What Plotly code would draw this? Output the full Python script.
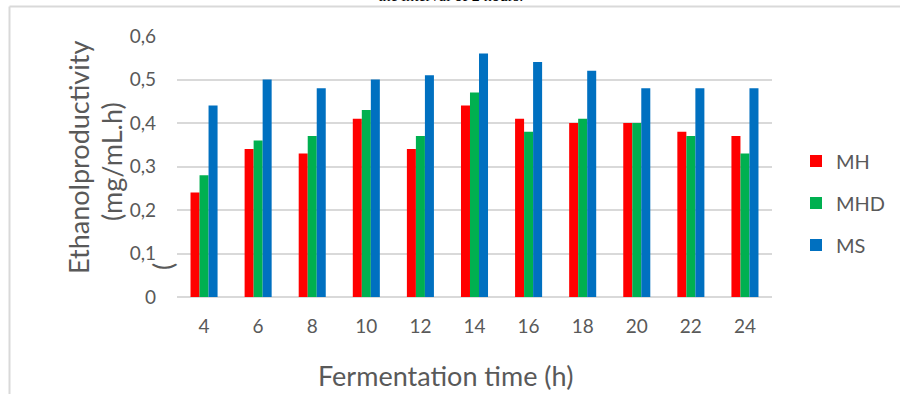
import plotly.graph_objects as go

# Fermentation times (h) and ethanol productivity (mg/mL.h)
hours = ["4", "6", "8", "10", "12", "14", "16", "18", "20", "22", "24"]
mh = [0.24, 0.34, 0.33, 0.41, 0.34, 0.44, 0.41, 0.40, 0.40, 0.38, 0.37]
mhd = [0.28, 0.36, 0.37, 0.43, 0.37, 0.47, 0.38, 0.41, 0.40, 0.37, 0.33]
ms = [0.44, 0.50, 0.48, 0.50, 0.51, 0.56, 0.54, 0.52, 0.48, 0.48, 0.48]
y_ticks = [0, 0.1, 0.2, 0.3, 0.4, 0.5, 0.6]
y_tick_text = ["0", "0,1", "0,2", "0,3", "0,4", "0,5", "0,6"]

W, H = 900, 394
L, R, T, B = 177, 128, 36, 97
PW, PH = W - L - R, H - T - B

FONT = "Lato"
GREY = "#595959"


def px_x(px):
    return (px - L) / PW


def px_y(py):
    return (H - B - py) / PH


series = [("MH", mh, "#FF0000"), ("MHD", mhd, "#00B050"), ("MS", ms, "#0070C0")]
legend_names = ["legend", "legend2", "legend3"]
legend_y = [161, 203, 245]

fig = go.Figure()
for (name, vals, color), lg in zip(series, legend_names):
    fig.add_trace(go.Bar(x=hours, y=vals, name=name, marker_color=color,
                         marker_line_width=0, legend=lg))

layout_legends = {}
for lg, ly in zip(legend_names, legend_y):
    layout_legends[lg] = dict(
        x=px_x(796), y=px_y(ly), xanchor="left", yanchor="middle",
        font=dict(family=FONT, size=20, color=GREY),
        bgcolor="rgba(0,0,0,0)", itemwidth=30,
    )

fig.update_layout(
    width=W, height=H,
    margin=dict(l=L, r=R, t=T, b=B, autoexpand=False),
    paper_bgcolor="white", plot_bgcolor="white",
    barmode="group", bargap=0.5, bargroupgap=0,
    showlegend=True,
    **layout_legends,
    xaxis=dict(
        showgrid=False, showline=False, ticks="",
        tickfont=dict(family=FONT, size=19, color=GREY),
        ticklabelstandoff=16,
    ),
    yaxis=dict(
        range=[0, 0.6], tickvals=y_ticks, ticktext=y_tick_text,
        showgrid=True, gridcolor="#D9D9D9", gridwidth=2,
        zeroline=True, zerolinecolor="#D9D9D9", zerolinewidth=2,
        showline=False, ticks="",
        tickfont=dict(family=FONT, size=19, color=GREY),
        ticklabelstandoff=20,
    ),
)

# Axis titles (rotated lines placed by their centres)
title_font = dict(family=FONT, size=27, color=GREY)
fig.add_annotation(text="Fermentation time (h)", xref="paper", yref="paper",
                   x=px_x(445), y=px_y(376), xanchor="center", yanchor="middle",
                   showarrow=False, font=title_font)
fig.add_annotation(text="Ethanolproductivity", xref="paper", yref="paper",
                   x=px_x(78), y=px_y(158), xanchor="center", yanchor="middle",
                   showarrow=False, textangle=-90, font=title_font)
fig.add_annotation(text="(mg/mL.h)", xref="paper", yref="paper",
                   x=px_x(111), y=px_y(162), xanchor="center", yanchor="middle",
                   showarrow=False, textangle=-90, font=title_font)
fig.add_annotation(text="(", xref="paper", yref="paper",
                   x=px_x(162), y=px_y(267), xanchor="center", yanchor="middle",
                   showarrow=False, textangle=-90, font=title_font)

# Caption line running off the top edge
fig.add_annotation(text="the interval of 2 hours.", xref="paper", yref="paper",
                   x=px_x(450), y=px_y(6), yanchor="bottom", showarrow=False,
                   font=dict(family="Liberation Serif", size=16, color="black"))

# Chart frame
fig.add_shape(type="line", xref="paper", yref="paper",
              x0=px_x(9.5), x1=px_x(905), y0=px_y(6.5), y1=px_y(6.5),
              line=dict(color="#D9D9D9", width=2))
fig.add_shape(type="line", xref="paper", yref="paper",
              x0=px_x(9.5), x1=px_x(9.5), y0=px_y(6.5), y1=px_y(400),
              line=dict(color="#D9D9D9", width=2))

fig.write_html("out.html")
